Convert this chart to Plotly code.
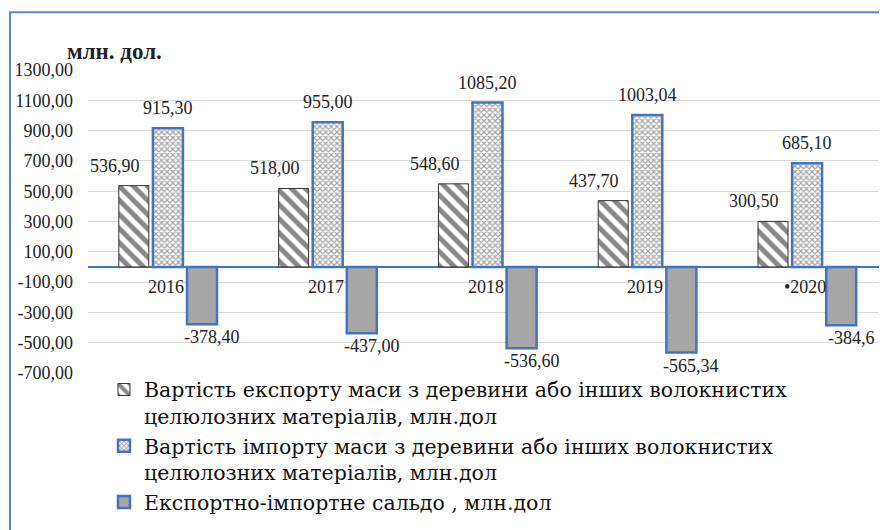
import plotly.graph_objects as go

years = ["2016", "2017", "2018", "2019", "2020"]
year_labels = ["2016", "2017", "2018", "2019", "•2020"]
export_vals = [536.90, 518.00, 548.60, 437.70, 300.50]
import_vals = [915.30, 955.00, 1085.20, 1003.04, 685.10]
saldo_vals = [-378.40, -437.00, -536.60, -565.34, -384.60]
saldo_labels = ["-378,40", "-437,00", "-536,60", "-565,34", "-384,6"]
y_ticks = [1300, 1100, 900, 700, 500, 300, 100, -100, -300, -500, -700]

names = [
    "Вартість експорту маси з деревини або інших волокнистих<br>целюлозних матеріалів, млн.дол",
    "Вартість імпорту маси з деревини або інших волокнистих<br>целюлозних матеріалів, млн.дол",
    "Експортно-імпортне сальдо , млн.дол",
]


def fmt(v):
    return f"{v:.2f}".replace(".", ",")


FONT = "Liberation Serif"
BLUE = "#4472C4"

fig = go.Figure()
fig.add_trace(go.Bar(
    x=years, y=export_vals, name=names[0],
    marker=dict(color="white",
                pattern=dict(shape="\\", fgcolor="#111111", bgcolor="white",
                             size=10, solidity=0.5),
                line=dict(color="#333333", width=1)),
))
fig.add_trace(go.Bar(
    x=years, y=import_vals, name=names[1],
    marker=dict(color="white",
                pattern=dict(shape="x", fgcolor="#444444", bgcolor="white",
                             size=4, solidity=0.5),
                line=dict(color=BLUE, width=2.5)),
))
fig.add_trace(go.Bar(
    x=years, y=saldo_vals, name=names[2],
    marker=dict(color="#a6a6a6", line=dict(color=BLUE, width=2.5)),
))

ann = []
lab_font = dict(family=FONT, size=18, color="#222222")
for i, yr in enumerate(years):
    ann.append(dict(x=i, y=export_vals[i], xref="x", yref="y", text=fmt(export_vals[i]),
                    showarrow=False, yanchor="bottom", xshift=-53, yshift=8, font=lab_font))
    ann.append(dict(x=i, y=import_vals[i], xref="x", yref="y", text=fmt(import_vals[i]),
                    showarrow=False, yanchor="bottom", xshift=0, yshift=8, font=lab_font))
    ann.append(dict(x=i, y=saldo_vals[i], xref="x", yref="y", text=saldo_labels[i],
                    showarrow=False, yanchor="top", xshift=44, yshift=-1, font=lab_font))
    ann.append(dict(x=i, y=0, xref="x", yref="y", text=year_labels[i],
                    showarrow=False, yanchor="middle", xshift=-2, yshift=-20, font=lab_font))

ann.append(dict(x=-0.029, y=1.06, xref="paper", yref="paper", text="<b>млн. дол.</b>",
                showarrow=False, xanchor="left", yanchor="middle",
                font=dict(family=FONT, size=23, color="#222222")))

fig.update_layout(
    width=887, height=530,
    margin=dict(l=80, r=8, t=62, b=165, autoexpand=False),
    paper_bgcolor="white", plot_bgcolor="white",
    barmode="group", bargap=0.36, bargroupgap=0.12,
    showlegend=True,
    legend=dict(x=0.02, y=0.011, xanchor="left", yanchor="top",
                font=dict(family="DejaVu Serif", size=20.5, color="#111111"),
                valign="top", tracegroupgap=0, bgcolor="rgba(0,0,0,0)"),
    annotations=ann,
    xaxis=dict(type="category", range=[-0.5, 4.5], showticklabels=False, showgrid=False,
               zeroline=False, showline=False, automargin=False),
    yaxis=dict(range=[-700, 1300], tickvals=y_ticks, ticktext=[fmt(v) for v in y_ticks],
               showgrid=True, gridcolor="#d9d9d9", gridwidth=1,
               zeroline=True, zerolinecolor=BLUE, zerolinewidth=2,
               tickfont=dict(family=FONT, size=18, color="#222222"),
               ticklabelstandoff=14, showline=False, automargin=False),
    shapes=[dict(type="rect", xref="paper", yref="paper",
                 x0=-0.0976, x1=1.05, y0=-0.6, y1=1.191,
                 line=dict(color="#5b86cf", width=2), fillcolor="rgba(0,0,0,0)",
                 layer="below")],
)

fig.write_html("out.html")
